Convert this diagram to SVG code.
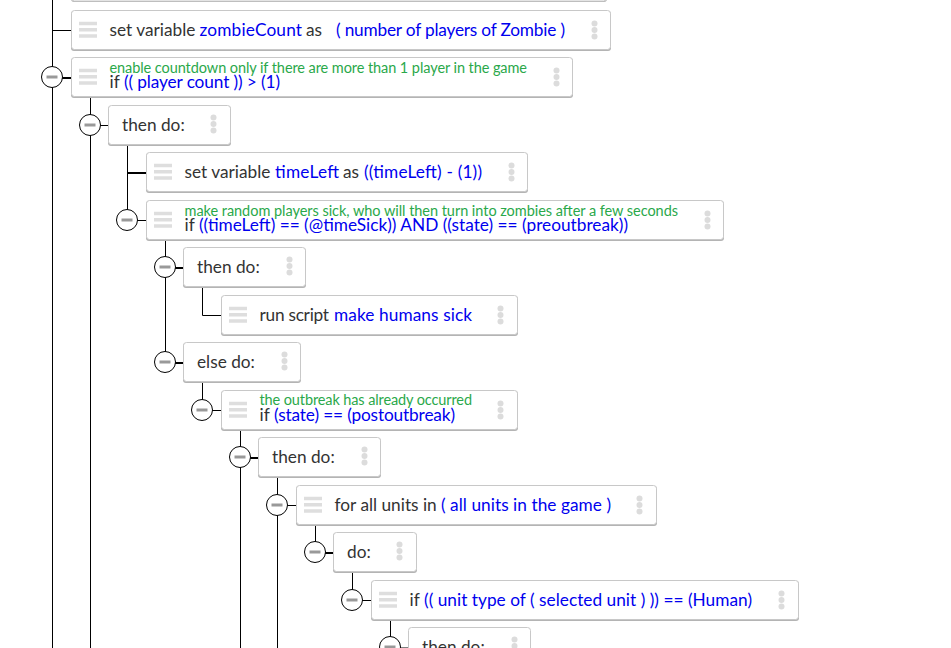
<svg xmlns="http://www.w3.org/2000/svg" width="951" height="648" viewBox="0 0 951 648">
<defs>
<style>
text{font-family:"Lato","Carlito","Liberation Sans",sans-serif;font-size:17.25px;fill:#333}
.v{fill:#0000ee}
.c{font-size:14.500px;fill:#2aa84a}
.box{fill:#fff;stroke:#c8c8c8;stroke-width:1}
.sh{fill:#b4b4b4}
.h{stroke:#dedede;stroke-width:3.300;fill:none}
.d{fill:#dcdcdc}
.l{stroke:#000;stroke-width:1;fill:none}
.t{stroke:#000;stroke-width:2;fill:none}
.o{fill:#fff;stroke:#000;stroke-width:1}
.m{stroke:#999;stroke-width:3}
</style>
<g id="hd"><path class="h" d="M0 1.500H18M0 7.750H18M0 14H18"/></g>
<g id="kb"><circle class="d" cx="0.500" cy="-6.500" r="3"/><circle class="d" cx="0.500" cy="0" r="3"/><circle class="d" cx="0.500" cy="6.500" r="3"/></g>
<g id="tg"><circle class="o" cx="0" cy="0" r="10.500"/><path class="m" d="M-5.500 0H5.500"/></g>
</defs>
<rect width="951" height="648" fill="#fff"/>
<g id="connectors">
<path class="l" d="M52.500 0V648M52 30.500H72"/>
<path class="l" d="M90.500 96V648"/>
<path class="t" d="M62 78H72"/>
<path class="l" d="M100 125.500H109"/>
<path class="l" d="M127.500 144V210"/>
<path class="t" d="M127 173H147"/>
<path class="l" d="M137 220.500H147"/>
<path class="l" d="M165.500 239V352"/>
<path class="t" d="M175 268H184"/>
<path class="l" d="M202.500 286V315.500H222"/>
<path class="t" d="M175 363H184"/>
<path class="l" d="M202.500 381V400"/>
<path class="l" d="M212 410.500H222"/>
<path class="l" d="M240.500 429V648"/>
<path class="t" d="M250 458H259"/>
<path class="l" d="M277.500 476V648"/>
<path class="l" d="M287 505.500H297"/>
<path class="l" d="M315.500 524V542"/>
<path class="t" d="M325 553H334"/>
<path class="l" d="M352.500 571V590"/>
<path class="l" d="M362 600.500H372"/>
<path class="l" d="M390.500 619V637"/>
<path class="l" d="M400 648H409"/>
</g>
<g id="n0"><rect class="sh" x="71" y="-30" width="536" height="32" rx="3"/><rect class="box" x="71.500" y="-30" width="535" height="31" rx="3"/></g>
<g id="n1"><rect class="sh" x="71" y="11" width="540" height="40" rx="3"/><rect class="box" x="71.500" y="10.500" width="539" height="39" rx="3"/><use href="#hd" x="79" y="22"/><use href="#kb" x="594" y="30"/><text x="109.500" y="36">set variable <tspan class="v" x="199.500" textLength="102.500">zombieCount</tspan><tspan x="306">as</tspan><tspan class="v" x="336" textLength="229">( number of players of Zombie )</tspan></text></g>
<g id="n2"><rect class="sh" x="71" y="58" width="502" height="40" rx="3"/><rect class="box" x="71.500" y="57.500" width="501" height="39" rx="3"/><use href="#hd" x="79" y="69"/><use href="#kb" x="556" y="77"/><text class="c" x="109.500" y="72.500" textLength="417.500">enable countdown only if there are more than 1 player in the game</text><text x="109.500" y="88">if <tspan class="v" x="124" textLength="156">(( player count )) &gt; (1)</tspan></text></g>
<g id="n3"><rect class="sh" x="108" y="106" width="123" height="40" rx="3"/><rect class="box" x="108.500" y="105.500" width="122" height="39" rx="3"/><use href="#kb" x="213" y="124"/><text x="122" y="131">then do:</text></g>
<g id="n4"><rect class="sh" x="146" y="153" width="382" height="40" rx="3"/><rect class="box" x="146.500" y="152.500" width="381" height="39" rx="3"/><use href="#hd" x="154" y="164"/><use href="#kb" x="511" y="172"/><text x="184.500" y="178">set variable <tspan class="v" x="275" textLength="64">timeLeft</tspan><tspan x="343">as</tspan><tspan class="v" x="364" textLength="118">((timeLeft) - (1))</tspan></text></g>
<g id="n5"><rect class="sh" x="146" y="201" width="578" height="40" rx="3"/><rect class="box" x="146.500" y="200.500" width="577" height="39" rx="3"/><use href="#hd" x="154" y="212"/><use href="#kb" x="707" y="220"/><text class="c" x="184.500" y="215.500" textLength="493.500">make random players sick, who will then turn into zombies after a few seconds</text><text x="184.500" y="231">if <tspan class="v" x="199" textLength="429">((timeLeft) == (@timeSick)) AND ((state) == (preoutbreak))</tspan></text></g>
<g id="n6"><rect class="sh" x="183" y="248" width="123" height="40" rx="3"/><rect class="box" x="183.500" y="247.500" width="122" height="39" rx="3"/><use href="#kb" x="289" y="266"/><text x="197" y="273">then do:</text></g>
<g id="n7"><rect class="sh" x="221" y="296" width="297" height="40" rx="3"/><rect class="box" x="221.500" y="295.500" width="296" height="39" rx="3"/><use href="#hd" x="229" y="307"/><use href="#kb" x="500" y="315"/><text x="259.500" y="321"><tspan textLength="69.500">run script</tspan><tspan class="v" x="334" textLength="138">make humans sick</tspan></text></g>
<g id="n8"><rect class="sh" x="183" y="343" width="118" height="40" rx="3"/><rect class="box" x="183.500" y="342.500" width="117" height="39" rx="3"/><use href="#kb" x="284" y="361"/><text x="197" y="368">else do:</text></g>
<g id="n9"><rect class="sh" x="221" y="391" width="297" height="40" rx="3"/><rect class="box" x="221.500" y="390.500" width="296" height="39" rx="3"/><use href="#hd" x="229" y="402"/><use href="#kb" x="500" y="410"/><text class="c" x="259.500" y="405" textLength="212.500">the outbreak has already occurred</text><text x="259.500" y="421">if <tspan class="v" x="274" textLength="181">(state) == (postoutbreak)</tspan></text></g>
<g id="n10"><rect class="sh" x="258" y="438" width="123" height="40" rx="3"/><rect class="box" x="258.500" y="437.500" width="122" height="39" rx="3"/><use href="#kb" x="364" y="456"/><text x="272" y="463">then do:</text></g>
<g id="n11"><rect class="sh" x="296" y="486" width="361" height="40" rx="3"/><rect class="box" x="296.500" y="485.500" width="360" height="39" rx="3"/><use href="#hd" x="304" y="497"/><use href="#kb" x="639" y="505"/><text x="334.500" y="511">for all units in <tspan class="v" x="441" textLength="170">( all units in the game )</tspan></text></g>
<g id="n12"><rect class="sh" x="333" y="533" width="84" height="40" rx="3"/><rect class="box" x="333.500" y="532.500" width="83" height="39" rx="3"/><use href="#kb" x="399" y="551"/><text x="347" y="558">do:</text></g>
<g id="n13"><rect class="sh" x="371" y="581" width="428" height="40" rx="3"/><rect class="box" x="371.500" y="580.500" width="427" height="39" rx="3"/><use href="#hd" x="379" y="592"/><use href="#kb" x="781" y="600"/><text x="409.500" y="606">if <tspan class="v" x="424" textLength="328">(( unit type of ( selected unit ) )) == (Human)</tspan></text></g>
<g id="n14"><rect class="box" x="408.500" y="627.500" width="122" height="39" rx="3"/><use href="#kb" x="514" y="646"/><text x="422" y="653">then do:</text></g>
<use id="t2" href="#tg" x="52" y="77"/>
<use id="t3" href="#tg" x="90" y="125"/>
<use id="t5" href="#tg" x="127" y="220"/>
<use id="t6" href="#tg" x="165" y="267"/>
<use id="t8" href="#tg" x="165" y="362"/>
<use id="t9" href="#tg" x="202" y="410"/>
<use id="t10" href="#tg" x="240" y="457"/>
<use id="t11" href="#tg" x="277" y="505"/>
<use id="t12" href="#tg" x="315" y="552"/>
<use id="t13" href="#tg" x="352" y="600"/>
<use id="t14" href="#tg" x="390" y="647"/>
</svg>
